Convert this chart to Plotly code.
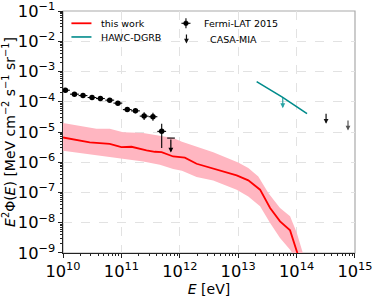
import numpy as np
import plotly.graph_objects as go

# ---------------- data ----------------
# "this work" central line
work_E = [1.0e10, 1.30e10, 2.87e10, 6.31e10, 1.0e11, 1.49e11, 2.69e11, 3.74e11, 4.88e11,
          7.71e11, 1.22e12, 1.94e12, 3.51e12, 9.42e12, 1.49e13, 2.37e13, 3.52e13, 5.21e13,
          7.74e13, 1.03e14, 1.10e14]
work_F = [6.58e-6, 5.97e-6, 4.51e-6, 4.08e-6, 3.18e-6, 3.25e-6, 2.45e-6, 2.22e-6, 2.17e-6,
          1.55e-6, 1.41e-6, 8.9e-7, 6.44e-7, 3.66e-7, 2.51e-7, 1.24e-7, 3.08e-8, 1.11e-8,
          5.6e-9, 1.0e-9, 5.0e-10]
# uncertainty band
band_hi_E = [1.0e10, 1.93e10, 3.74e10, 6.31e10, 1.07e11, 2.36e11, 4.56e11, 7.71e11, 1.09e12,
             1.96e12, 3.74e12, 1.0e13, 1.49e13, 2.21e13, 3.28e13, 5.21e13, 7.74e13, 1.01e14,
             1.28e14, 1.35e14]
band_hi_F = [1.97e-5, 1.60e-5, 1.28e-5, 1.28e-5, 9.9e-6, 9.2e-6, 7.66e-6, 6.3e-6, 4.75e-6,
             3.25e-6, 2.14e-6, 9.8e-7, 6.44e-7, 3.4e-7, 9.6e-8, 3.08e-8, 1.63e-8, 4.6e-9,
             1.0e-9, 5.0e-10]
band_lo_E = [1.0e10, 1.93e10, 3.27e10, 6.31e10, 1.07e11, 2.36e11, 4.56e11, 7.71e11, 1.09e12,
             1.94e12, 3.74e12, 9.42e12, 1.49e13, 2.37e13, 3.52e13, 5.21e13, 7.74e13, 8.81e13,
             1.0e14]
band_lo_F = [2.4e-6, 2.01e-6, 1.77e-6, 1.55e-6, 1.31e-6, 1.06e-6, 8.26e-7, 5.97e-7, 5.24e-7,
             3.25e-7, 2.51e-7, 1.24e-7, 7.43e-8, 3.48e-8, 9.8e-9, 3.15e-9, 1.29e-9, 8.85e-10,
             5.0e-10]

# Fermi-LAT 2015 points
fermi_E = [1.10e10, 1.57e10, 2.20e10, 3.14e10, 4.37e10, 6.31e10, 8.71e10, 1.26e11, 1.74e11,
           2.45e11, 3.47e11, 4.90e11]
fermi_F = [2.4e-4, 1.78e-4, 1.6e-4, 1.38e-4, 1.28e-4, 1.13e-4, 9.0e-5, 5.5e-5, 5.0e-5,
           3.35e-5, 3.2e-5, 1.05e-5]
fermi_F_up = [2.5e-5, 1.9e-5, 1.8e-5, 1.6e-5, 1.5e-5, 1.4e-5, 1.2e-5, 1.1e-5, 1.0e-5,
              1.17e-5, 1.1e-5, 8.1e-6]
fermi_F_dn = [2.2e-5, 1.7e-5, 1.6e-5, 1.4e-5, 1.3e-5, 1.2e-5, 1.0e-5, 9.0e-6, 8.3e-6,
              8.7e-6, 8.3e-6, 7.55e-6]
fermi_E_up = [2.1e9, 3.0e9, 4.2e9, 6.0e9, 8.3e9, 1.2e10, 1.65e10, 2.4e10, 3.3e10,
              4.6e10, 6.6e10, 9.3e10]
fermi_E_dn = [1.7e9, 2.5e9, 3.5e9, 5.0e9, 7.0e9, 1.0e10, 1.4e10, 2.0e10, 2.8e10,
              3.9e10, 5.5e10, 7.8e10]
# Fermi upper limit
fermi_ul_E = 7.03e11
fermi_ul_F = 6.3e-6
fermi_ul_tip = 2.1e-6
fermi_ul_Elo = 6.08e11
fermi_ul_Ehi = 8.24e11

# HAWC-DGRB
hawc_E = [2.07e13, 5.7e13, 1.51e14]
hawc_F = [4.64e-4, 1.42e-4, 4.07e-5]
hawc_ul_E = 5.8e13
hawc_ul_F = 1.48e-4
hawc_ul_tip = 6.15e-5

# CASA-MIA upper limits
casa_E = [3.2e14, 7.6e14]
casa_F = [4.5e-5, 2.7e-5]
casa_tip = [1.86e-5, 1.12e-5]

# ---------------- styling ----------------
RED = "#ff0000"
PINK = "#ffb6c1"
TEAL = "#008b8b"
FONT = "DejaVu Sans"

fig = go.Figure()

# band polygon
fig.add_trace(go.Scatter(
    x=band_hi_E + band_lo_E[::-1], y=band_hi_F + band_lo_F[::-1],
    fill="toself", fillcolor=PINK, line=dict(width=0), mode="lines",
    hoverinfo="skip", showlegend=False))
fig.add_trace(go.Scatter(x=work_E, y=work_F, mode="lines",
                         line=dict(color=RED, width=1.8), showlegend=False))

# HAWC line
fig.add_trace(go.Scatter(x=hawc_E, y=hawc_F, mode="lines",
                         line=dict(color=TEAL, width=1.6), showlegend=False))

# Fermi points
fig.add_trace(go.Scatter(
    x=fermi_E, y=fermi_F, mode="markers",
    marker=dict(color="black", size=5.5),
    error_y=dict(type="data", symmetric=False, array=fermi_F_up, arrayminus=fermi_F_dn,
                 color="black", thickness=1.1, width=0),
    error_x=dict(type="data", symmetric=False, array=fermi_E_up, arrayminus=fermi_E_dn,
                 color="black", thickness=1.1, width=0),
    showlegend=False))

# Fermi upper-limit cap
fig.add_trace(go.Scatter(x=[fermi_ul_Elo, fermi_ul_Ehi], y=[fermi_ul_F, fermi_ul_F],
                         mode="lines", line=dict(color="black", width=1.1), showlegend=False))

LX = lambda v: float(np.log10(v))
arrows = [
    (fermi_ul_E, fermi_ul_F, fermi_ul_tip, "black"),
    (hawc_ul_E, hawc_ul_F, hawc_ul_tip, "#2aa3a3"),
    (casa_E[0], casa_F[0], casa_tip[0], "#111111"),
    (casa_E[1], casa_F[1], casa_tip[1], "#555555"),
]
for e, top, tip, col in arrows:
    fig.add_annotation(x=LX(e), y=LX(tip), ax=LX(e), ay=LX(top),
                       xref="x", yref="y", axref="x", ayref="y",
                       text="", showarrow=True, arrowhead=2, arrowsize=0.8,
                       arrowwidth=1.2, arrowcolor=col)

# ---------------- legend (drawn manually) ----------------
L, R, T, B = 63.3, 354.7, 11.0, 253.3
px = lambda x: (x - L) / (R - L)
py = lambda y: (B - y) / (B - T)

fig.add_shape(type="line", xref="paper", yref="paper",
              x0=px(71.7), x1=px(91.7), y0=py(23.3), y1=py(23.3),
              line=dict(color=RED, width=1.8))
fig.add_shape(type="line", xref="paper", yref="paper",
              x0=px(71.7), x1=px(91.7), y0=py(37), y1=py(37),
              line=dict(color=TEAL, width=1.6))
# Fermi symbol
fig.add_shape(type="line", xref="paper", yref="paper",
              x0=px(181.5), x1=px(190.5), y0=py(23.3), y1=py(23.3),
              line=dict(color="black", width=1.1))
fig.add_shape(type="line", xref="paper", yref="paper",
              x0=px(186), x1=px(186), y0=py(18.3), y1=py(28.3),
              line=dict(color="black", width=1.1))
fig.add_shape(type="circle", xref="paper", yref="paper",
              x0=px(183.6), x1=px(188.4), y0=py(25.7), y1=py(20.9),
              fillcolor="black", line=dict(color="black", width=0.5))
# CASA-MIA symbol
fig.add_annotation(x=px(186.5), y=py(43.5), ax=0, ay=-10.5, xref="paper", yref="paper",
                   text="", showarrow=True, arrowhead=2, arrowsize=0.8,
                   arrowwidth=1.2, arrowcolor="#111111")

legend_texts = [
    (99, 23.3, "this work"),
    (99, 37.5, "HAWC-DGRB"),
    (202.5, 23.3, "Fermi-LAT 2015"),
    (208, 39.5, "CASA-MIA"),
]
for x, y, t in legend_texts:
    fig.add_annotation(x=px(x), y=py(y), xref="paper", yref="paper", text=t,
                       showarrow=False, xanchor="left", yanchor="middle",
                       font=dict(family=FONT, size=9.5, color="black"))

# frame (top/right in gray)
fig.add_shape(type="rect", xref="paper", yref="paper", x0=0, x1=1, y0=0, y1=1,
              line=dict(color="#aaaaaa", width=1.2), layer="below")

axis_common = dict(
    type="log", showline=True, linecolor="#222222", linewidth=1.2,
    ticks="outside", ticklen=4, tickwidth=1, tickcolor="#222222",
    showgrid=True, gridcolor="#e2e2e2", griddash="dash", gridwidth=0.7,
    exponentformat="power", showexponent="all", dtick=1, zeroline=False,
    automargin=False, ticklabeloverflow="allow",
    tickfont=dict(family=FONT, size=13, color="black"),
    minor=dict(ticks="outside", ticklen=2, tickcolor="#222222", dtick="D1", showgrid=False),
)

fig.update_layout(
    width=374, height=299,
    margin=dict(l=63, r=19, t=11, b=46),
    paper_bgcolor="white", plot_bgcolor="white",
    font=dict(family=FONT, color="black"),
    showlegend=False,
    xaxis=dict(range=[10, 15.0005],
               title=dict(text="<i>E</i> [eV]", font=dict(family=FONT, size=14), standoff=0),
               **axis_common),
    yaxis=dict(range=[-9.0005, -0.9995],
               title=dict(text="<i>E</i><sup>2</sup>Φ(<i>E</i>) [MeV cm<sup>−2</sup> s<sup>−1</sup> sr<sup>−1</sup>]",
                          font=dict(family=FONT, size=14), standoff=2),
               **axis_common),
)

fig.write_html("out.html", config={"displayModeBar": False},
               post_script="document.body.style.margin='0';document.body.style.padding='0';")
